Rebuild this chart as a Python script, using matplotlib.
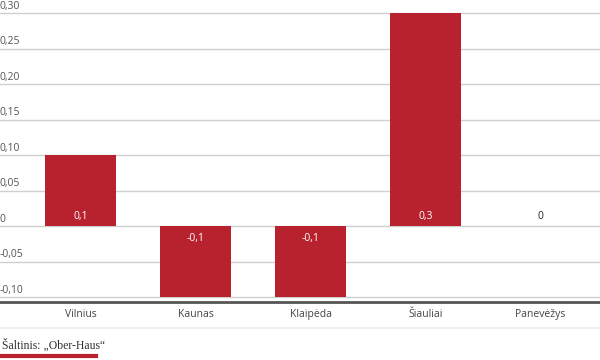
import matplotlib.pyplot as plt
import numpy as np

cities = ["Vilnius", "Kaunas", "Klaipėda", "Šiauliai", "Panevėžys"]
values = [0.1, -0.1, -0.1, 0.3, 0.0]
labels = ["0,1", "-0,1", "-0,1", "0,3", "0"]
yticks = [-0.10, -0.05, 0, 0.05, 0.10, 0.15, 0.20, 0.25, 0.30]
ytick_labels = ["-0,10", "-0,05", "0", "0,05", "0,10", "0,15", "0,20", "0,25", "0,30"]

plt.rcParams['font.family'] = ['Open Sans', 'DejaVu Sans']
red = "#b8222f"

fig = plt.figure(figsize=(6, 3.6), dpi=100)
ax = fig.add_axes([0, (360 - 302) / 360, 1, (302 - 6) / 360])

x = np.arange(len(cities))
ax.bar(x, values, width=0.62, color=red, zorder=3)

ax.set_xlim(-0.7, 4.517)
ax.set_ylim(-0.107, 0.31)

# gridlines and tick labels sitting on top of them
for t, lab in zip(yticks, ytick_labels):
    ax.axhline(t, color="#cfcfcf", lw=1, zorder=1)
    ax.annotate(lab, (0, t), xycoords=ax.get_yaxis_transform(), xytext=(0, 1),
                textcoords="offset points", ha="left", va="bottom",
                fontsize=7.5, color="#555555", annotation_clip=False)

# value labels
for xi, v, lab in zip(x, values, labels):
    if v > 0:
        ax.annotate(lab, (xi, 0), xytext=(0, 3), textcoords="offset points",
                    ha="center", va="bottom", fontsize=7.5, color="white", zorder=4)
    elif v < 0:
        ax.annotate(lab, (xi, 0), xytext=(0, -5), textcoords="offset points",
                    ha="center", va="top", fontsize=7.5, color="white", zorder=4)
    else:
        ax.annotate(lab, (xi, 0), xytext=(0, 3), textcoords="offset points",
                    ha="center", va="bottom", fontsize=7.5, color="#222222", zorder=4)

ax.set_yticks([])
ax.set_xticks(x)
ax.set_xticklabels(cities, fontsize=7.5, color="#444444")
ax.tick_params(axis="x", length=0, pad=5)
for s in ["top", "right", "left"]:
    ax.spines[s].set_visible(False)
ax.spines["bottom"].set_color("#555555")
ax.spines["bottom"].set_linewidth(2)
ax.set_facecolor("white")

# separator, source and red underline
fig.add_artist(plt.Line2D([0, 1], [1 - 328 / 360] * 2, color="#eeeeee", lw=1.2))
fig.text(2 / 600, 1 - 345 / 360, "Šaltinis: „Ober-Haus“", family="Liberation Serif",
         fontsize=8.5, color="#333333", va="center", ha="left")
fig.add_artist(plt.Line2D([0, 96 / 600], [1 - 356 / 360] * 2, color=red, lw=3))

fig.savefig("out.png", dpi=100)
